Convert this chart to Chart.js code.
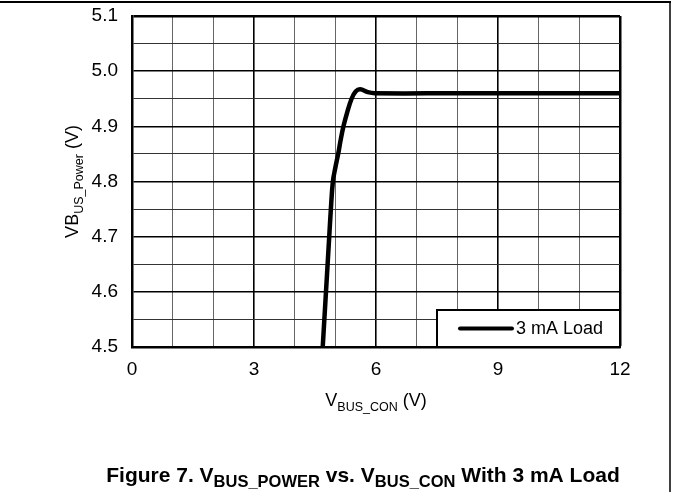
<!DOCTYPE html>
<html>
<head>
<meta charset="utf-8">
<script src="https://cdn.jsdelivr.net/npm/chart.js@4"></script>
<style>
  html, body { margin: 0; padding: 0; background: #fff; }
  canvas { display: block; }
</style>
</head>
<body>
<canvas id="chart" width="673" height="492"></canvas>
<script>
// V_BUS_CON (V)
const vbusCon = [4.69, 4.73, 4.77, 4.81, 4.85, 4.89, 4.94, 5.00, 5.07, 5.13, 5.20, 5.29, 5.40, 5.50, 5.61, 5.80, 5.97, 8.0, 12.0];
// V_BUS_POWER (V)
const vbusPower = [4.50, 4.55, 4.60, 4.65, 4.70, 4.75, 4.80, 4.825, 4.85, 4.875, 4.90, 4.925, 4.95, 4.963, 4.967, 4.962, 4.96, 4.96, 4.96];
const seriesLabel = "3 mA Load";
const xTickLabels = [0, 3, 6, 9, 12];
const yTickLabels = ["4.5", "4.6", "4.7", "4.8", "4.9", "5.0", "5.1"];

const FONT = "'Liberation Sans', Arial, sans-serif";

// draws text made of normal and subscript parts
function drawParts(ctx, parts, x, y, size, subSize, bold){
    const w = bold ? "bold " : "";
    let total = 0;
    parts.forEach(p=>{
        ctx.font = w + (p.sub ? subSize : size) + "px " + FONT;
        p.w = ctx.measureText(p.t).width;
        total += p.w;
    });
    let cx = x - total/2;
    ctx.textAlign = "left";
    ctx.textBaseline = "alphabetic";
    parts.forEach(p=>{
        ctx.font = w + (p.sub ? subSize : size) + "px " + FONT;
        ctx.fillText(p.t, cx, p.sub ? y + size*0.25 : y);
        cx += p.w;
    });
}

const extras = {
    id: "extras",
    afterDatasetsDraw(chart){
        const ctx = chart.ctx;
        const a = chart.chartArea;
        ctx.save();

        // legend box
        const bx = a.right - 183, by = a.bottom - 37;
        ctx.fillStyle = "#fff";
        ctx.fillRect(bx, by, a.right - bx, a.bottom - by);
        ctx.strokeStyle = "#000";
        ctx.lineWidth = 2;
        ctx.strokeRect(bx, by, a.right - bx, a.bottom - by);
        ctx.lineWidth = 4;
        ctx.lineCap = "round";
        ctx.beginPath();
        ctx.moveTo(bx + 23, by + 18.5);
        ctx.lineTo(bx + 75, by + 18.5);
        ctx.stroke();
        ctx.fillStyle = "#000";
        ctx.font = "18px " + FONT;
        ctx.textAlign = "left";
        ctx.textBaseline = "middle";
        ctx.fillText(chart.data.datasets[0].label, bx + 79, by + 19);

        // axis titles
        const midX = (a.left + a.right)/2;
        drawParts(ctx, [{t:"V"},{t:"BUS_CON",sub:true},{t:" (V)"}], midX, a.bottom + 59, 18, 12.5, false);

        ctx.translate(72, (a.top + a.bottom)/2);
        ctx.rotate(-Math.PI/2);
        drawParts(ctx, [{t:"VB"},{t:"US_Power",sub:true},{t:" (V)"}], 0, 6, 18, 12.5, false);
        ctx.setTransform(1,0,0,1,0,0);
        ctx.scale(chart.currentDevicePixelRatio, chart.currentDevicePixelRatio);

        // caption
        drawParts(ctx, [
            {t:"Figure 7. V"},{t:"BUS_POWER",sub:true},{t:" vs. V"},{t:"BUS_CON",sub:true},{t:" With 3 mA Load"}
        ], 363, 482, 21, 16.5, true);

        // page frame
        ctx.strokeStyle = "#000";
        ctx.lineCap = "butt";
        ctx.lineWidth = 2;
        ctx.beginPath();
        ctx.moveTo(0, 2);
        ctx.lineTo(671, 2);
        ctx.stroke();
        ctx.lineWidth = 1.5;
        ctx.beginPath();
        ctx.moveTo(670, 1);
        ctx.lineTo(670, 492);
        ctx.stroke();
        ctx.restore();
    }
};

const ctx = document.getElementById("chart").getContext("2d");

new Chart(ctx,{
    type:"line",
    data:{
        datasets:[{
            label: seriesLabel,
            data: vbusCon.map((x,i)=>({x:x, y:vbusPower[i]})),
            borderColor:"#000",
            borderWidth:4.5,
            pointRadius:0,
            tension:0.4,
            fill:false
        }]
    },
    options:{
        responsive:false,
        animation:false,
        layout:{ padding:{ left:0, top:16, right:53, bottom:0 } },
        plugins:{ legend:{display:false}, tooltip:{enabled:false} },
        scales:{
            x:{
                type:"linear",
                min:0, max:12,
                afterFit(s){ s.height = 145; s.paddingLeft = 0; s.paddingRight = 0; },
                ticks:{
                    stepSize:1,
                    autoSkip:false,
                    maxRotation:0,
                    padding:11,
                    color:"#000",
                    font:{ family:FONT, size:19 },
                    callback:v => xTickLabels.includes(v) ? String(v) : ""
                },
                grid:{
                    drawTicks:false,
                    color:c => (c.tick && c.tick.value % 3 === 0) ? "#000" : "#666",
                    lineWidth:c => !c.tick ? 1 : (c.tick.value === 12 ? 2.5 : (c.tick.value % 3 === 0 ? 1.6 : 1))
                },
                border:{ display:true, color:"#000", width:2.5 }
            },
            y:{
                min:4.5, max:5.1,
                afterFit(s){ s.width = 132; s.paddingTop = 0; s.paddingBottom = 0; },
                ticks:{
                    stepSize:0.05,
                    autoSkip:false,
                    padding:14,
                    color:"#000",
                    font:{ family:FONT, size:19 },
                    callback:v => {
                        const t = (Math.round(v*100)/100).toFixed(2);
                        return t.endsWith("0") && yTickLabels.includes(t.slice(0,3)) ? t.slice(0,3) : "";
                    }
                },
                grid:{
                    drawTicks:false,
                    color:c => {
                        if(!c.tick) return "#000";
                        return Math.round(c.tick.value*100) % 10 === 0 ? "#000" : "#333";
                    },
                    lineWidth:c => {
                        if(!c.tick) return 1;
                        const r = Math.round(c.tick.value*100);
                        if(r === 510) return 2.5;
                        return r % 10 === 0 ? 1.6 : 1;
                    }
                },
                border:{ display:true, color:"#000", width:2.5 }
            }
        }
    },
    plugins:[extras]
});
</script>
</body>
</html>
